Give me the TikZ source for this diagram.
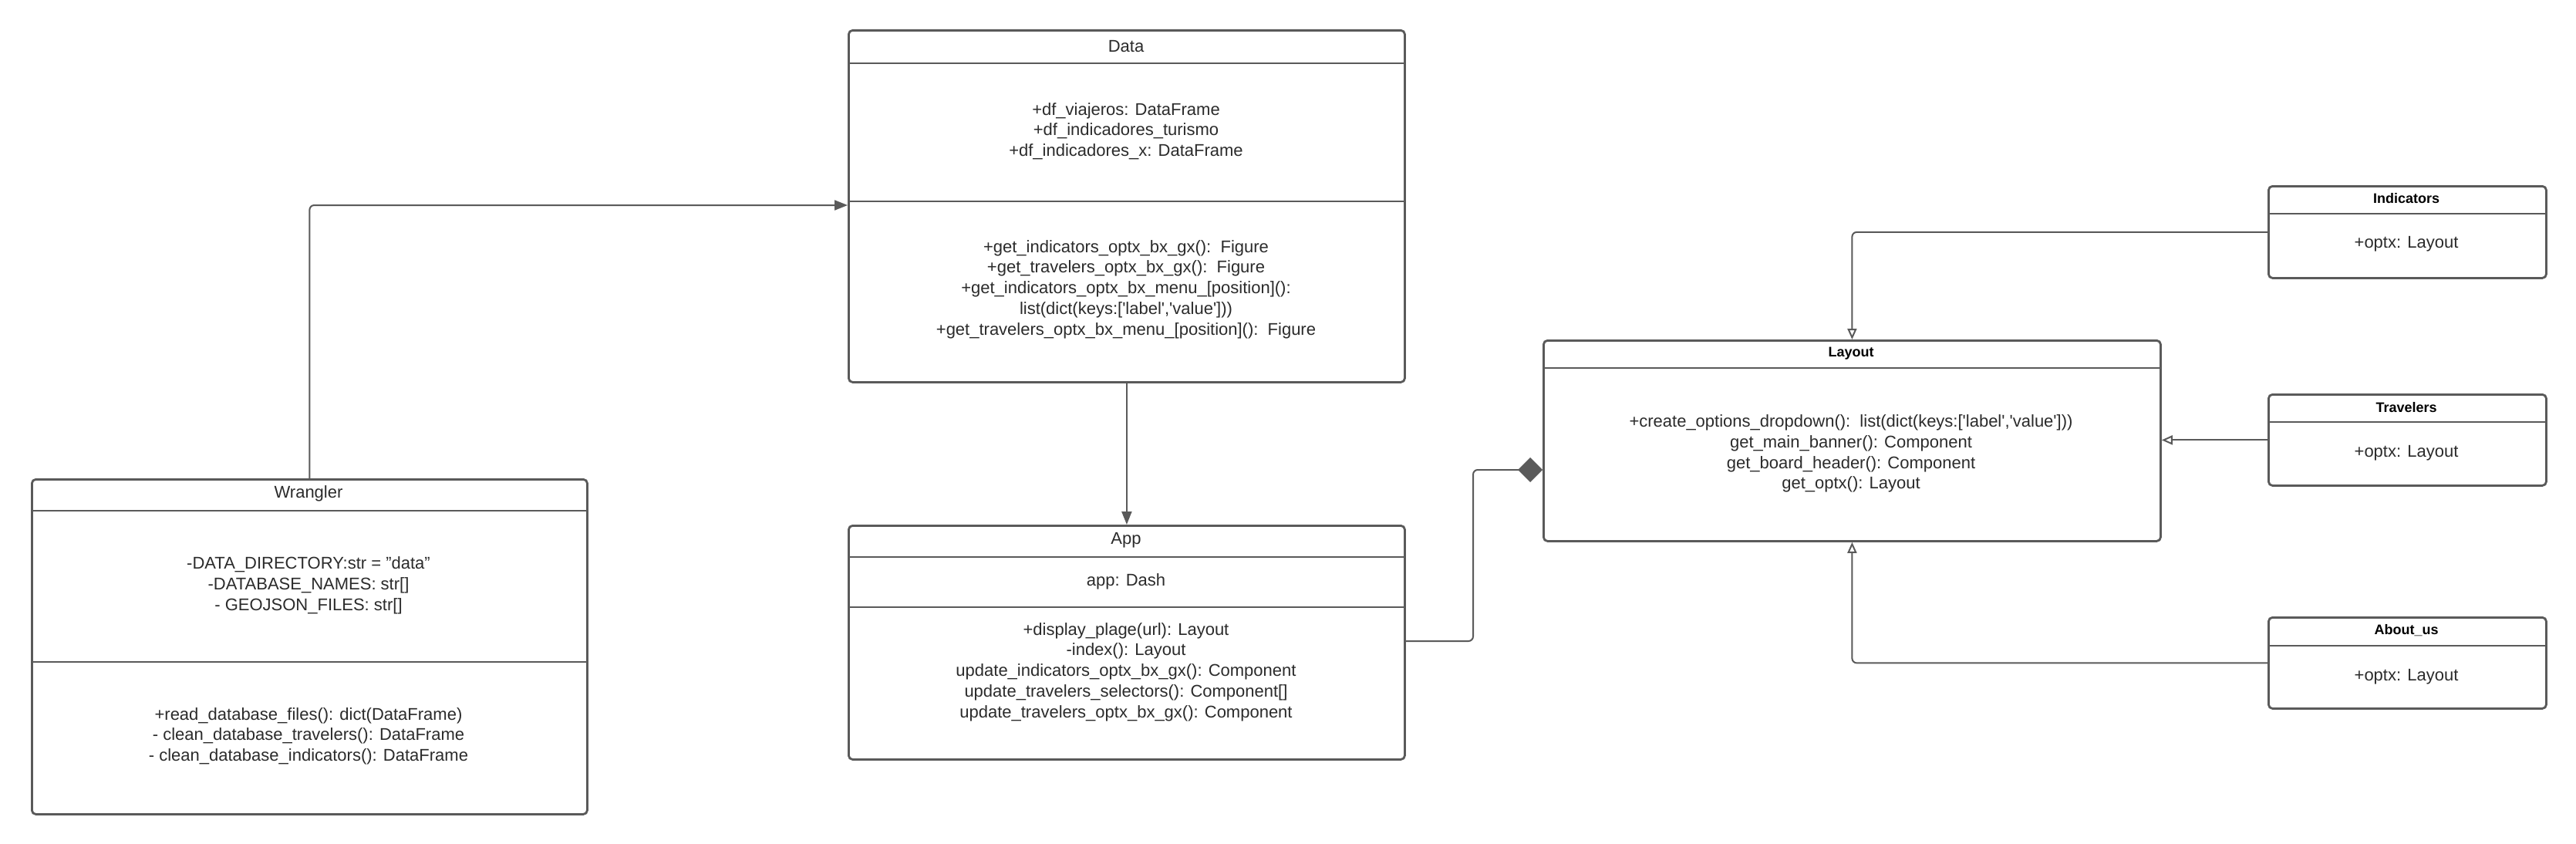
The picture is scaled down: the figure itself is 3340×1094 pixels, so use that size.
\documentclass[tikz,border=0pt]{standalone}
\usepackage{fontspec}
\setmainfont{Liberation Sans}
\usetikzlibrary{arrows.meta}
\definecolor{ln}{HTML}{5A5A5A}
\definecolor{tx}{HTML}{2B2B2B}
\newcommand\squote{\textquotesingle}
\begin{document}
\begin{tikzpicture}[x=1pt, y=-1pt,
  box/.style={draw=ln, line width=2.8pt, rounded corners=5pt, inner sep=0pt, anchor=north west},
  sepline/.style={draw=ln, line width=2.8pt},
  txt/.style={text=tx, font=\fontsize{22}{26.7}\selectfont, align=center, inner sep=0pt},
  ttl/.style={text=black, font=\fontsize{18}{21}\selectfont\bfseries, inner sep=0pt},
  conn/.style={draw=ln, line width=2pt, rounded corners=6pt},
  filltip/.style={-{Triangle[length=17pt,width=13pt]}},
  opentip/.style={-{Triangle[open,length=14pt,width=12pt,fill=white]}},
  diamtip/.style={-{Diamond[length=32pt,width=32pt]}}]
\fill[white] (0,0) rectangle (3340,1094);
\useasboundingbox (0,0) rectangle (3340,1094);

% boxes
\node[box, minimum width=721pt, minimum height=456pt] (data) at (1099,38) {};
\node[box, minimum width=720pt, minimum height=434pt] (wr) at (40,620) {};
\node[box, minimum width=721pt, minimum height=303pt] (app) at (1099,680) {};
\node[box, minimum width=800pt, minimum height=260pt] (lay) at (2000,440) {};
\node[box, minimum width=360pt, minimum height=119pt] (ind) at (2940,240) {};
\node[box, minimum width=360pt, minimum height=118pt] (trav) at (2940,510) {};
\node[box, minimum width=360pt, minimum height=118pt] (abt) at (2940,799) {};

% separators
\draw[sepline] (data.west |- 0,82) -- (data.east |- 0,82);
\draw[sepline] (data.west |- 0,261) -- (data.east |- 0,261);
\draw[sepline] (wr.west |- 0,662) -- (wr.east |- 0,662);
\draw[sepline] (wr.west |- 0,858) -- (wr.east |- 0,858);
\draw[sepline] (app.west |- 0,722) -- (app.east |- 0,722);
\draw[sepline] (app.west |- 0,787) -- (app.east |- 0,787);
\draw[sepline] (lay.west |- 0,477) -- (lay.east |- 0,477);
\draw[sepline] (ind.west |- 0,277) -- (ind.east |- 0,277);
\draw[sepline] (trav.west |- 0,547) -- (trav.east |- 0,547);
\draw[sepline] (abt.west |- 0,837) -- (abt.east |- 0,837);

% texts
\node[txt] (datat) at (1460,60) {Data};
\node[txt] (dataa) at (1460,170) {+df\_viajeros: DataFrame\\+df\_indicadores\_turismo\\+df\_indicadores\_x: DataFrame};
\node[txt] (datam) at (1460,375) {+get\_indicators\_optx\_bx\_gx():\ \ Figure\\+get\_travelers\_optx\_bx\_gx():\ \ Figure\\+get\_indicators\_optx\_bx\_menu\_[position]():\\list(dict(keys:[\squote label\squote,\squote value\squote]))\\+get\_travelers\_optx\_bx\_menu\_[position]():\ \ Figure};

\node[txt] (wrt) at (400,640) {Wrangler};
\node[txt] (wra) at (400,759) {-DATA\_DIRECTORY:str = "data"\\-DATABASE\_NAMES: str[]\\- GEOJSON\_FILES: str[]};
\node[txt] (wrm) at (400,954) {+read\_database\_files(): dict(DataFrame)\\- clean\_database\_travelers(): DataFrame\\- clean\_database\_indicators(): DataFrame};

\node[txt] (appt) at (1460,700) {App};
\node[txt] (appa) at (1460,754) {app: Dash};
\node[txt] (appm) at (1460,871) {+display\_plage(url): Layout\\-index(): Layout\\update\_indicators\_optx\_bx\_gx(): Component\\update\_travelers\_selectors(): Component[]\\update\_travelers\_optx\_bx\_gx(): Component};

\node[ttl] (layt) at (2400,458) {Layout};
\node[txt] (laym) at (2400,588) {+create\_options\_dropdown():\ \ list(dict(keys:[\squote label\squote,\squote value\squote]))\\get\_main\_banner(): Component\\get\_board\_header(): Component\\get\_optx(): Layout};

\node[ttl] (indt) at (3120,257) {Indicators};
\node[txt] (inda) at (3120,316) {+optx: Layout};
\node[ttl] (travt) at (3120,528) {Travelers};
\node[txt] (trava) at (3120,587) {+optx: Layout};
\node[ttl] (abtt) at (3120,817) {About\_us};
\node[txt] (abta) at (3120,877) {+optx: Layout};

% connectors
\draw[conn, filltip] (wr.north) |- (data.west |- 0,266);
\draw[conn, filltip] (data.south) -- (app.north);
\draw[conn, diamtip] (app.east |- 0,831) -| (1910,609) -- (lay.west |- 0,609);
\draw[conn, opentip] (ind.west) -| (lay.north);
\draw[conn, opentip] (trav.west) -- (trav.west -| lay.east);
\draw[conn, opentip] (abt.west) -| (lay.south);
\end{tikzpicture}
\end{document}
